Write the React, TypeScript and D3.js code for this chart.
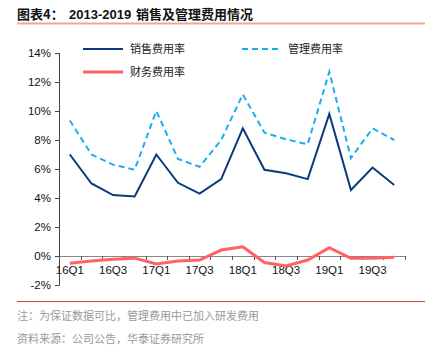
import React from "react";
import * as d3 from "d3";

const quarters = ["16Q1","16Q2","16Q3","16Q4","17Q1","17Q2","17Q3","17Q4","18Q1","18Q2","18Q3","18Q4","19Q1","19Q2","19Q3","19Q4"];
const salesRate = [7.0, 5.0, 4.2, 4.1, 7.0, 5.05, 4.3, 5.3, 8.8, 5.95, 5.7, 5.3, 9.8, 4.55, 6.1, 4.9];
const mgmtRate = [9.35, 7.0, 6.3, 5.95, 10.0, 6.7, 6.15, 8.0, 11.15, 8.5, 8.05, 7.7, 12.7, 6.75, 8.8, 8.0];
const finRate = [-0.5, -0.35, -0.23, -0.15, -0.55, -0.35, -0.28, 0.41, 0.64, -0.45, -0.68, -0.28, 0.57, -0.16, -0.16, -0.09];
const yTicks = [-2, 0, 2, 4, 6, 8, 10, 12, 14];
const xLabels = ["16Q1","16Q3","17Q1","17Q3","18Q1","18Q3","19Q1","19Q3"];

const W = 434, H = 356;
const CN = "'Noto Sans CJK SC', 'Noto Sans', sans-serif";
const LAT = "'Liberation Sans', Arial, sans-serif";

export default function App() {
  const x = d3.scaleBand<string>().domain(quarters).range([59, 405]).padding(0);
  const y = d3.scaleLinear().domain([-2, 14]).range([285, 53]);
  const cx = (q: string) => (x(q) as number) + x.bandwidth() / 2;
  const line = d3.line<number>().x((_, i) => cx(quarters[i])).y(d => y(d));

  return (
    <svg width={W} height={H} style={{ position: "absolute", left: 0, top: 0, background: "#fff" }}>
      <rect x={0} y={0} width={W} height={H} fill="#fff" />
      {/* title */}
      <text x={17} y={19} fontFamily={CN} fontSize={13} fontWeight="bold" fill="#111">图表4：</text>
      <text x={69} y={19} fontFamily={LAT} fontSize={13} fontWeight="bold" fill="#111">2013-2019</text>
      <text x={136} y={19} fontFamily={CN} fontSize={13} fontWeight="bold" fill="#111">销售及管理费用情况</text>
      <line x1={17} x2={425} y1={23.5} y2={23.5} stroke="#f4a394" strokeWidth={2} />

      {/* y axis */}
      <line x1={59.5} x2={59.5} y1={y(14)} y2={y(-2)} stroke="#444" strokeWidth={1} />
      {yTicks.map(t => (
        <g key={t}>
          <line x1={55} x2={59.5} y1={Math.round(y(t)) + 0.5} y2={Math.round(y(t)) + 0.5} stroke="#444" />
          <text x={51} y={y(t) + 4} textAnchor="end" fontFamily={LAT} fontSize={11.5} fill="#111">{t}%</text>
        </g>
      ))}

      {/* x axis at 0 */}
      <line x1={59} x2={405} y1={Math.round(y(0)) + 0.5} y2={Math.round(y(0)) + 0.5} stroke="#888" strokeWidth={1.2} />
      {[...quarters.map(q => x(q) as number), 405].map((px, i) => (
        <line key={i} x1={Math.round(px) + 0.5} x2={Math.round(px) + 0.5} y1={y(0)} y2={y(0) + 4} stroke="#555" />
      ))}
      {xLabels.map(q => (
        <text key={q} x={cx(q)} y={274} textAnchor="middle" fontFamily={LAT} fontSize={11.5} fill="#111">{q}</text>
      ))}

      {/* series */}
      <path d={line(mgmtRate) || ""} fill="none" stroke="#18aef0" strokeWidth={2} strokeDasharray="6,4" />
      <path d={line(salesRate) || ""} fill="none" stroke="#0b3a7c" strokeWidth={2} />
      <path d={line(finRate) || ""} fill="none" stroke="#ff6262" strokeWidth={3} />

      {/* legend */}
      <line x1={83} x2={123} y1={49} y2={49} stroke="#0b3a7c" strokeWidth={2} />
      <text x={130} y={53} fontFamily={CN} fontSize={11} fill="#222">销售费用率</text>
      <line x1={242} x2={282} y1={49} y2={49} stroke="#18aef0" strokeWidth={2} strokeDasharray="6,4" />
      <text x={288} y={53} fontFamily={CN} fontSize={11} fill="#222">管理费用率</text>
      <line x1={83} x2={123} y1={72} y2={72} stroke="#ff6262" strokeWidth={3} />
      <text x={130} y={76} fontFamily={CN} fontSize={11} fill="#222">财务费用率</text>

      {/* footer */}
      <line x1={17} x2={425} y1={301.5} y2={301.5} stroke="#d0402e" strokeWidth={1} />
      <text x={17} y={320} fontFamily={CN} fontSize={11} fill="#999">注：为保证数据可比，管理费用中已加入研发费用</text>
      <text x={17} y={343} fontFamily={CN} fontSize={11} fill="#999">资料来源：公司公告，华泰证券研究所</text>
    </svg>
  );
}
